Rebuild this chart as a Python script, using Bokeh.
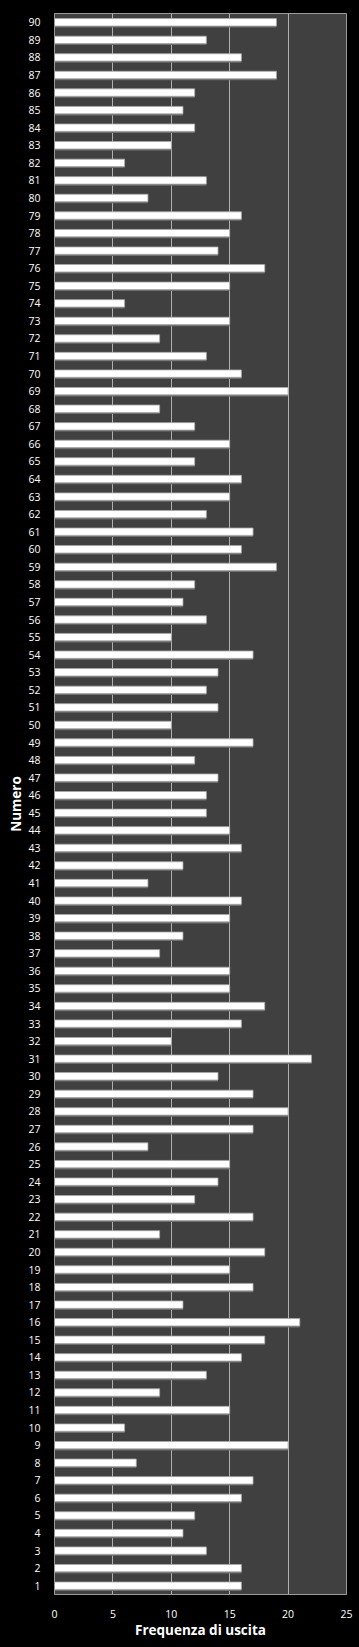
from bokeh.plotting import figure
from bokeh.models import FixedTicker, ColumnDataSource
from bokeh.embed import file_html
from bokeh.resources import INLINE

numbers = list(range(1, 91))
frequencies = [
    16, 16, 13, 11, 12, 16, 17, 7, 20, 6,      # 1-10
    15, 9, 13, 16, 18, 21, 11, 17, 15, 18,     # 11-20
    9, 17, 12, 14, 15, 8, 17, 20, 17, 14,      # 21-30
    22, 10, 16, 18, 15, 15, 9, 11, 15, 16,     # 31-40
    8, 11, 16, 15, 13, 13, 14, 12, 17, 10,     # 41-50
    14, 13, 14, 17, 10, 13, 11, 12, 19, 16,    # 51-60
    17, 13, 15, 16, 12, 15, 12, 9, 20, 16,     # 61-70
    13, 9, 15, 6, 15, 18, 14, 15, 16, 8,       # 71-80
    13, 6, 10, 12, 11, 12, 19, 16, 13, 19,     # 81-90
]
x_ticks = [0, 5, 10, 15, 20, 25]
x_title = "Frequenza di uscita"
y_title = "Numero"

src = ColumnDataSource(dict(
    y=numbers,
    x=frequencies,
    ys=[n - 0.08 for n in numbers],
))

p = figure(width=359, height=1647, output_backend="svg", toolbar_location=None,
           x_range=(0, 25), y_range=(0.5, 90.5),
           min_border_left=54, min_border_right=13, min_border_top=13, min_border_bottom=53)
p.background_fill_color = "#404040"
p.border_fill_color = "#000000"
p.outline_line_color = "#9a9a9a"
p.outline_line_width = 1

# shadow then bar
p.hbar(y="ys", left=0, right="x", height=0.44, source=src,
       fill_color="#6e6e6e", line_color=None)
p.hbar(y="y", left=0, right="x", height=0.42, source=src,
       fill_color="#ffffff", line_color="#a8a8a8", line_width=0.8)

p.xaxis.ticker = FixedTicker(ticks=x_ticks)
p.yaxis.ticker = FixedTicker(ticks=numbers)
p.xgrid.ticker = FixedTicker(ticks=x_ticks)
p.xgrid.grid_line_color = "#b0b0b0"
p.xgrid.grid_line_width = 1
p.ygrid.grid_line_color = None

for ax in (p.xaxis, p.yaxis):
    ax.major_tick_line_color = None
    ax.minor_tick_line_color = None
    ax.axis_line_color = "#9a9a9a"
    ax.major_label_text_color = "#ffffff"
    ax.major_label_text_font = "Open Sans"
    ax.major_label_text_font_size = "10.5px"
    ax.axis_label_text_color = "#ffffff"
    ax.axis_label_text_font = "Open Sans"
    ax.axis_label_text_font_style = "bold"
    ax.axis_label_text_font_size = "13.5px"

p.xaxis.axis_label = x_title
p.yaxis.axis_label = y_title
p.xaxis.major_label_standoff = 9
p.xaxis.axis_label_standoff = 0
p.yaxis.major_label_standoff = 8
p.yaxis.axis_label_standoff = 0

html = file_html(p, INLINE)
html = html.replace("</head>", "<style>html,body{margin:0;padding:0;background:#000000;}</style></head>", 1)
open("out.html", "w").write(html)
